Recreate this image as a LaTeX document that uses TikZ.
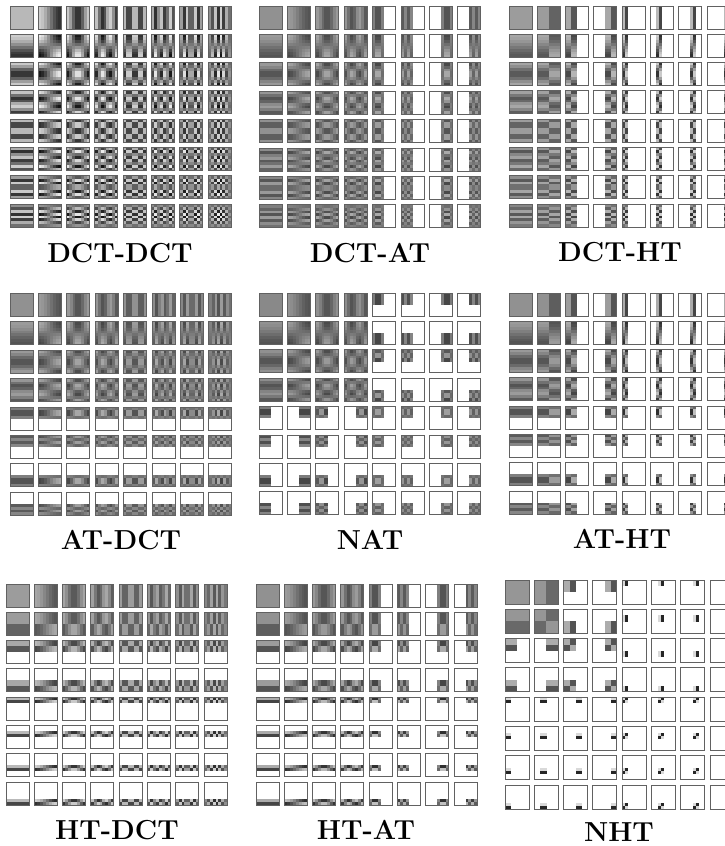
\documentclass[tikz,border=0pt]{standalone}
\newcommand{\setbasis}[3]{\expandafter\def\csname basis#1#2\endcsname{#3}}
% Livello di un indice nelle trasformate annidate
\newcommand{\levelno}[1]{0}
\newcommand{\levelAT}[1]{\ifnum#1<4 0\else 1\fi}
\newcommand{\levelHT}[1]{\ifnum#1<2 0\else\ifnum#1<4 1\else 2\fi\fi}
% Un pixel con i comandi pgf: con \fill la memoria di TeX non basta
\makeatletter
\newcommand{\fillpixel}[3]{%
  \pgfsys@color@gray@fill{#3}%
  \pgfpathrectangle{\pgfqpoint{#1pt}{#2pt}}{\pgfqpoint{\pixelsize pt}{\pixelsize pt}}%
  \pgfusepathqfill}
\makeatother
% Basi 1D: indice/valore, gli zeri non compaiono
\setbasis{DCT}{0}{0/.354,1/.354,2/.354,3/.354,4/.354,5/.354,6/.354,7/.354}
\setbasis{DCT}{1}{0/.490,1/.416,2/.278,3/.098,4/-.098,5/-.278,6/-.416,7/-.490}
\setbasis{DCT}{2}{0/.462,1/.191,2/-.191,3/-.462,4/-.462,5/-.191,6/.191,7/.462}
\setbasis{DCT}{3}{0/.416,1/-.098,2/-.490,3/-.278,4/.278,5/.490,6/.098,7/-.416}
\setbasis{DCT}{4}{0/.354,1/-.354,2/-.354,3/.354,4/.354,5/-.354,6/-.354,7/.354}
\setbasis{DCT}{5}{0/.278,1/-.490,2/.098,3/.416,4/-.416,5/-.098,6/.490,7/-.278}
\setbasis{DCT}{6}{0/.191,1/-.462,2/.462,3/-.191,4/-.191,5/.462,6/-.462,7/.191}
\setbasis{DCT}{7}{0/.098,1/-.278,2/.416,3/-.490,4/.490,5/-.416,6/.278,7/-.098}
\setbasis{AT}{0}{0/.354,1/.354,2/.354,3/.354,4/.354,5/.354,6/.354,7/.354}
\setbasis{AT}{1}{0/.490,1/.416,2/.278,3/.098,4/-.098,5/-.278,6/-.416,7/-.490}
\setbasis{AT}{2}{0/.462,1/.191,2/-.191,3/-.462,4/-.462,5/-.191,6/.191,7/.462}
\setbasis{AT}{3}{0/.416,1/-.098,2/-.490,3/-.278,4/.278,5/.490,6/.098,7/-.416}
\setbasis{AT}{4}{0/.1,1/-.5,2/-.5,3/.1}
\setbasis{AT}{5}{0/-.4,1/.2,2/-.4,3/.2}
\setbasis{AT}{6}{4/.1,5/-.5,6/-.5,7/.1}
\setbasis{AT}{7}{4/-.4,5/.2,6/-.4,7/.2}
\setbasis{ATL1}{0}{0/.5,1/.5,2/.5,3/.5}
\setbasis{ATL1}{1}{4/.5,5/.5,6/.5,7/.5}
\setbasis{ATL1}{2}{0/.3,1/-.4,2/-.4,3/.5}
\setbasis{ATL1}{3}{4/.3,5/-.4,6/-.4,7/.5}
\setbasis{HT}{0}{0/.354,1/.354,2/.354,3/.354,4/.354,5/.354,6/.354,7/.354}
\setbasis{HT}{1}{0/.354,1/.354,2/.354,3/.354,4/-.354,5/-.354,6/-.354,7/-.354}
\setbasis{HT}{2}{0/.5,1/.5,2/-.5,3/-.5}
\setbasis{HT}{3}{4/.5,5/.5,6/-.5,7/-.5}
\setbasis{HT}{4}{0/.707,1/-.707}
\setbasis{HT}{5}{2/.707,3/-.707}
\setbasis{HT}{6}{4/.707,5/-.707}
\setbasis{HT}{7}{6/.707,7/-.707}
\setbasis{HTL1}{0}{0/.5,1/.5,2/.5,3/.5}
\setbasis{HTL1}{1}{4/.5,5/.5,6/.5,7/.5}
\setbasis{HTL2}{0}{0/.707,1/.707}
\setbasis{HTL2}{1}{2/.707,3/.707}
\setbasis{HTL2}{2}{4/.707,5/.707}
\setbasis{HTL2}{3}{6/.707,7/.707}
\tikzset{
  tileframe/.style={draw=black!62, line width=1pt},
  paneltitle/.style={font=\fontsize{27.5}{32}\selectfont\bfseries, inner sep=0pt}
}
\begin{document}
\begin{tikzpicture}[x=1pt, y=-1pt]
\useasboundingbox (0,0) rectangle (725,846);
% Pannelli: origine, passo, lato, basi righe/colonne, annidamento, grigio neutro, guadagno, titolo
\foreach \px/\py/\pitch/\side/\rowname/\colname/\nest/\midgray/\gain/\titlex/\titley/\paneltext in {
  10/6/28.3/23/DCT/DCT/no/.5/1.76/120/253/DCT-DCT,
  259/6/28.4/23/DCT/AT/no/.47/.8/370/253/DCT-AT,
  509/6/28.3/23/DCT/HT/no/.5/.9/620/252/DCT-HT,
  10/293.5/28.4/23/AT/DCT/no/.47/.8/121/540/AT-DCT,
  259/293/28.4/23/AT/AT/AT/.45/.7/370/540/NAT,
  509/293/28.3/23/AT/HT/no/.47/.8/622/539/AT-HT,
  6/584/28.3/23/HT/DCT/no/.5/.9/117/830/HT-DCT,
  256/584/28.3/23/HT/AT/no/.47/.8/366/830/HT-AT,
  505/580/29.3/24/HT/HT/HT/.5/.7/619/832/NHT}
{
  \pgfmathsetmacro\cell{\side/8}
  \pgfmathsetmacro\pixelsize{\cell+.2}
  \foreach \r in {0,...,7} {
    \foreach \c in {0,...,7} {
      \edef\levelr{\csname level\nest\endcsname{\r}}
      \edef\levelc{\csname level\nest\endcsname{\c}}
      \ifnum\levelc>\levelr
        \expandafter\let\expandafter\rowlist\csname basis\nest L\levelc\r\endcsname
      \else
        \expandafter\let\expandafter\rowlist\csname basis\rowname\r\endcsname
      \fi
      \ifnum\levelr>\levelc
        \expandafter\let\expandafter\collist\csname basis\nest L\levelr\c\endcsname
      \else
        \expandafter\let\expandafter\collist\csname basis\colname\c\endcsname
      \fi
      \pgfmathsetmacro\tx{\px+\c*\pitch}
      \pgfmathsetmacro\ty{\py+\r*\pitch}
      \begin{scope}
      \foreach \y/\a in \rowlist {
        \foreach \x/\b in \collist {
          \pgfmathsetmacro\shade{min(1,max(0,\midgray+\gain*\a*\b))}
          \pgfmathsetmacro\pixelx{\tx+\x*\cell}
          \pgfmathsetmacro\pixely{-\ty-(\y+1)*\cell-.2}
          \fillpixel{\pixelx}{\pixely}{\shade}
        }
      }
      \end{scope}
      \draw[tileframe] (\tx,\ty) rectangle +(\side,\side);
    }
  }
  \node[paneltitle] (title\rowname\colname) at (\titlex,\titley) {\paneltext};
}
\end{tikzpicture}
\end{document}
